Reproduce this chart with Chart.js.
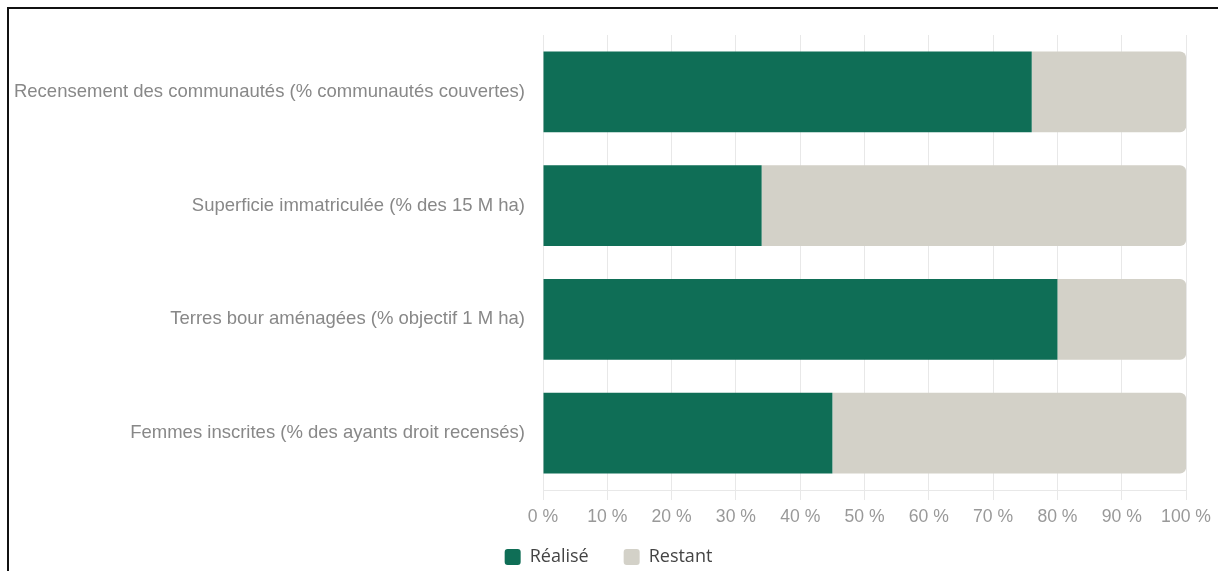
<!DOCTYPE html>
<html>
<head>
<meta charset="utf-8">
<script src="https://cdn.jsdelivr.net/npm/chart.js@4.4.1/dist/chart.umd.min.js"></script>
<style>
  html, body { margin: 0; padding: 0; background: #fff; }
  body { width: 1218px; height: 571px; overflow: hidden; position: relative; }
  #frame { position: absolute; left: 7px; top: 7px; width: 1211px; height: 564px; border-top: 2px solid #111; border-left: 2px solid #111; box-sizing: border-box; z-index: 2; pointer-events: none; }
  #wrap { position: absolute; left: 9px; top: 9px; width: 1209px; height: 562px; }
</style>
</head>
<body>
<div id="frame"></div>
<div id="wrap"><canvas id="c"></canvas></div>
<script>
const categories = [
  "Recensement des communautés (% communautés couvertes)",
  "Superficie immatriculée (% des 15 M ha)",
  "Terres bour aménagées (% objectif 1 M ha)",
  "Femmes inscrites (% des ayants droit recensés)"
];
const realise = [76, 34, 80, 45];
const restant = [24, 66, 20, 55];
const seriesNames = ["Réalisé", "Restant"];
const xTicks = [0, 10, 20, 30, 40, 50, 60, 70, 80, 90, 100];

// Legend placement helper: reserve little space, then position the legend row.
const legendPlace = {
  id: 'legendPlace',
  beforeInit(chart) {
    const L = chart.legend;
    if (!L) return;
    const fit = L.fit;
    L.fit = function () { fit.call(this); this.height = 30; };
  },
  afterLayout(chart) {
    const L = chart.legend;
    if (!L) return;
    const h = L.height;
    L.top = 504;
    L.bottom = L.top + 62;
    L.left -= 5;
    L.right -= 5;
  }
};

const ctx = document.getElementById('c');
new Chart(ctx, {
  type: 'bar',
  data: {
    labels: categories,
    datasets: [
      { label: seriesNames[0], data: realise, backgroundColor: '#0f6e56', borderWidth: 0, borderRadius: 0 },
      { label: seriesNames[1], data: restant, backgroundColor: '#d3d1c8', borderWidth: 0, borderRadius: 6 }
    ]
  },
  plugins: [legendPlace],
  options: {
    indexAxis: 'y',
    responsive: true,
    maintainAspectRatio: false,
    animation: false,
    layout: { padding: { top: 26, left: 0, right: 0, bottom: 0 } },
    categoryPercentage: 1,
    barPercentage: 0.71,
    plugins: {
      tooltip: { enabled: false },
      legend: {
        position: 'bottom',
        labels: {
          boxWidth: 16, boxHeight: 16, useBorderRadius: true, borderRadius: 3,
          color: '#444', padding: 35,
          font: { family: 'Open Sans', size: 18 }
        }
      }
    },
    scales: {
      x: {
        stacked: true, min: 0, max: 100,
        afterBuildTicks: (s) => { s.ticks = xTicks.map(v => ({ value: v })); },
        afterFit: (s) => { s.height = 51; },
        grid: { color: '#e8e8e8', lineWidth: 1, tickLength: 10 },
        border: { color: '#e8e8e8' },
        ticks: { color: '#999', padding: 7, font: { family: 'Liberation Sans', size: 17.6 }, callback: (v) => v + ' %' }
      },
      y: {
        stacked: true,
        afterFit: (s) => { s.width = 534; },
        grid: { display: false },
        border: { display: false },
        ticks: { color: '#888', padding: 10, font: { family: 'Liberation Sans', size: 18.5 } }
      }
    }
  }
});
</script>
</body>
</html>
